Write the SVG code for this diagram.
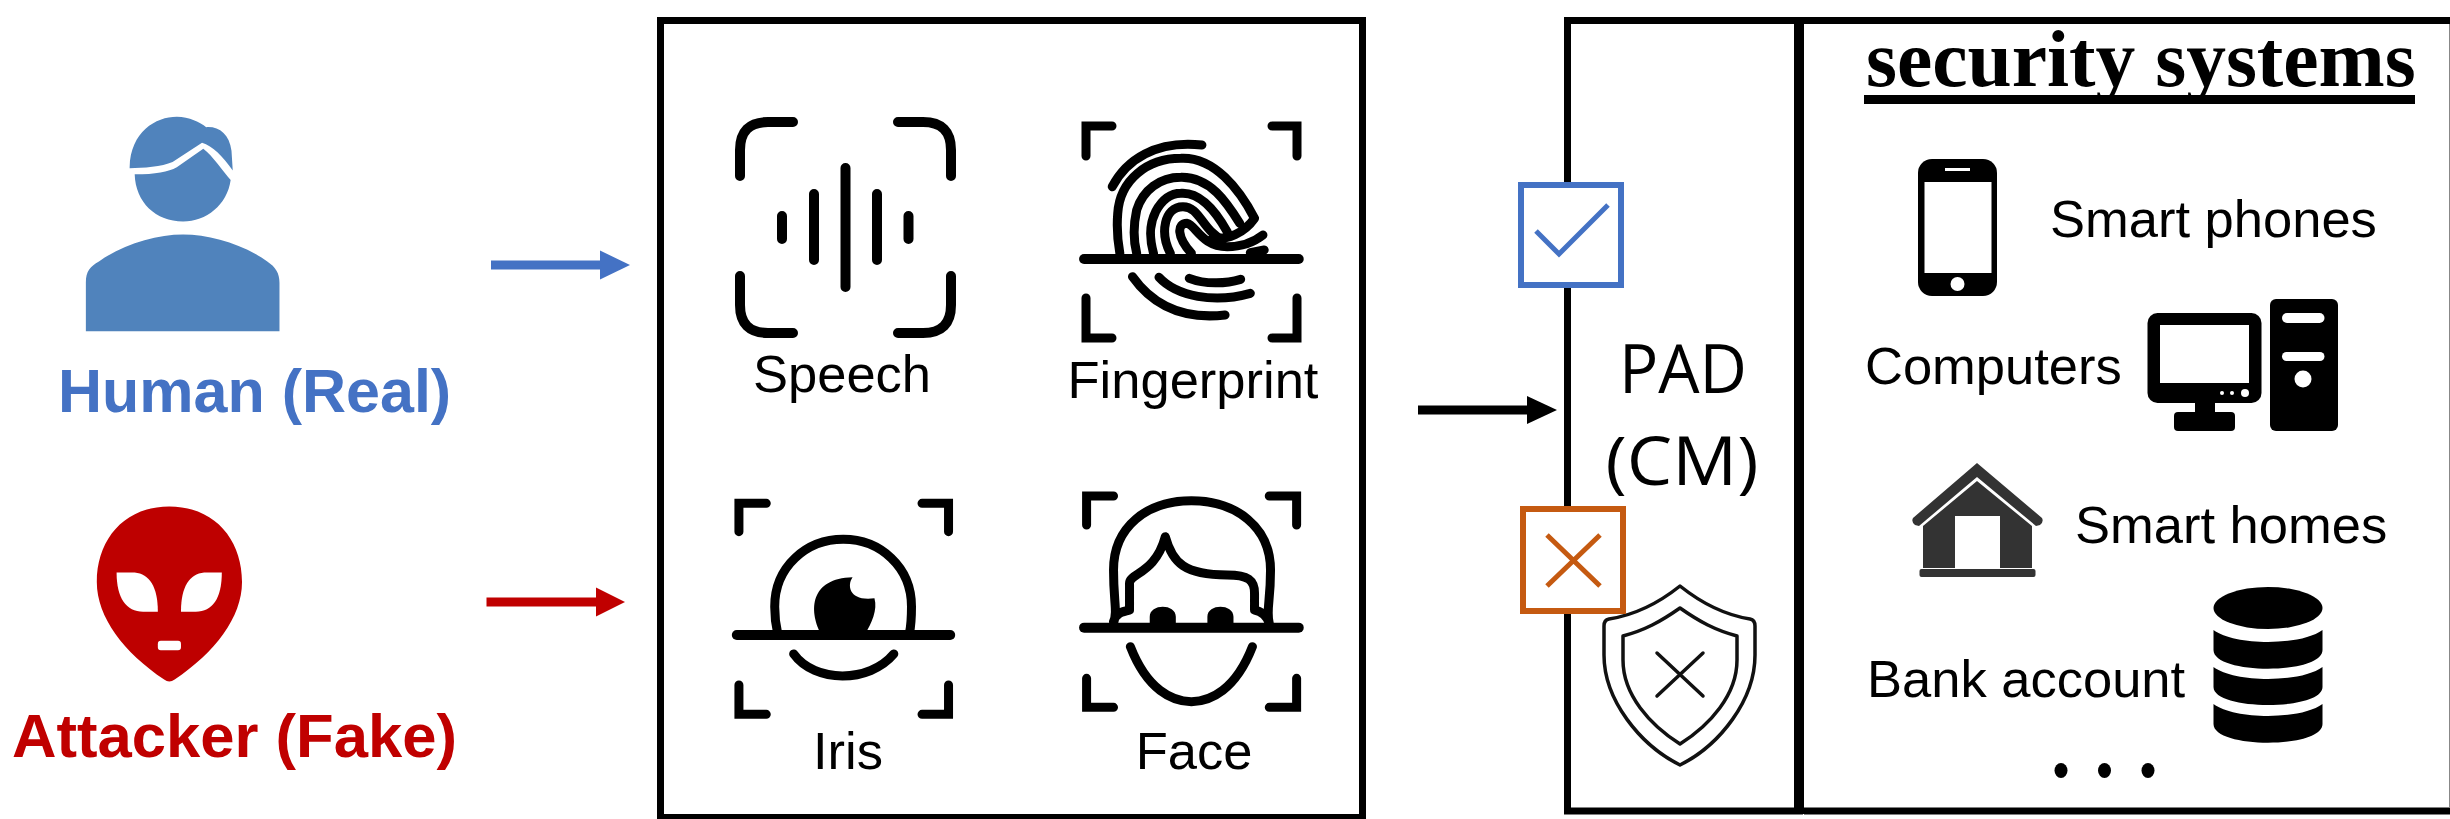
<svg xmlns="http://www.w3.org/2000/svg" width="2450" height="819" viewBox="0 0 2450 819">
<style>
text{font-family:"Liberation Sans",Arial,sans-serif;fill:#000}
.lbl{font-size:52.500px;text-anchor:middle}
.item{font-size:52.500px}
.bold{font-weight:bold;font-size:61px}
.cm{font-family:"Open Sans",sans-serif;font-size:68px;text-anchor:middle}
.frame{fill:none;stroke:#000;stroke-width:7}
.ink{fill:none;stroke:#000;stroke-linecap:round;stroke-linejoin:round;vector-effect:non-scaling-stroke}
.w9{stroke-width:9}
.w10{stroke-width:10}
.bracket{fill:none;stroke:#000;stroke-width:9;stroke-linecap:round;stroke-linejoin:miter;vector-effect:non-scaling-stroke}
.solid{fill:#000}
.hole{fill:#fff}
</style>
<rect width="2450" height="819" fill="#fff"/>
<g id="human">
<g transform="translate(0 80) scale(.4209 .4713)" fill="#5083bc">
<path d="M308 185C310 110 370 78 420 78C450 78 475 90 490 100C520 98 545 115 550 150L553 192C530 162 505 140 480 133L410 174C385 184 340 187 308 187Z"/>
<path d="M320 200C370 200 400 195 420 185L483 146C505 160 530 195 548 212C540 265 490 300 435 300C370 300 322 260 320 200Z"/>
<path d="M204 533V430C204 405 215 395 235 385C290 350 370 328 435 328C500 328 580 350 635 385C655 397 664 410 664 430V533Z"/>
</g>
<text class="bold" x="58" y="412" style="fill:#4472c4">Human (Real)</text>
</g>
<g id="attacker">
<g transform="translate(0 80) scale(.4209 .4713)">
<path fill="#be0000" d="M402 905C510 905 575 975 575 1065C575 1140 510 1215 415 1272Q402 1280 390 1272C295 1215 230 1140 230 1065C230 975 295 905 402 905Z"/>
<path class="hole" d="M277 1045H320C355 1048 375 1075 375 1128H340C300 1128 277 1100 277 1045Z"/>
<path class="hole" d="M527 1045H485C450 1048 430 1075 430 1128H465C505 1128 527 1100 527 1045Z"/>
<rect class="hole" x="375" y="1190" width="55" height="20" rx="7"/>
</g>
<text class="bold" x="12" y="757" style="fill:#c00000;font-size:61.600px">Attacker (Fake)</text>
</g>
<g id="modalities">
<rect class="frame" x="660.500" y="20.500" width="702" height="797"/>
</g>
<g id="speech">
<path class="ink w10" d="M740 176V150Q740 122 768 122H793M951 176V150Q951 122 923 122H898M740 276V305Q740 333 768 333H793M951 276V305Q951 333 923 333H898"/>
<path class="ink w10" d="M782 216V239M814 194V260M845.500 168V287M877 194V260M908.500 216V239"/>
<text class="lbl" x="842" y="392">Speech</text>
</g>
<g id="fingerprint">
<path class="bracket" d="M1112 126H1086V156M1272 126H1297V156M1086 298V338H1112M1297 298V338H1272"/>
<g transform="translate(680 90) scale(.4209 .3333)">
<path class="ink w10" d="M960 507H1470"/>
<path class="ink w9" d="M1027 290C1060 210 1130 150 1240 165M1045 490C1038 440 1038 400 1040 370C1045 270 1110 205 1190 205C1270 200 1330 300 1365 385C1340 430 1300 450 1265 445M1085 490C1075 440 1078 400 1085 360C1100 300 1140 262 1190 262C1260 260 1300 340 1330 400M1125 490C1112 430 1118 395 1130 365C1145 330 1165 310 1190 310C1240 305 1280 380 1300 425M1165 490C1140 430 1150 350 1195 350C1235 350 1240 420 1290 450M1215 490C1180 440 1180 400 1205 400C1225 405 1240 470 1300 470C1340 470 1365 455 1385 435M1355 488L1388 480M1075 560C1120 640 1190 690 1295 675M1138 562C1180 620 1270 640 1355 610M1210 565C1250 585 1300 580 1332 568"/>
</g>
<text class="lbl" x="1193" y="398">Fingerprint</text>
</g>
<g id="iris">
<g transform="translate(680 470) scale(.4209 .3333)">
<path class="bracket" d="M205 100H140V185M575 100H638V185M140 645V733H205M638 645V733H575"/>
<path class="ink w10" d="M135 495H642"/>
<path class="ink w9" d="M232 490C225 450 225 430 225 410C225 290 300 208 388 208C475 208 550 290 550 410C550 430 550 460 545 490M270 552C320 640 450 640 508 552"/>
<path class="solid" d="M335 492C305 420 310 325 410 322C395 350 405 395 462 385C470 420 455 460 440 492Z"/>
</g>
<text class="lbl" x="848" y="769">Iris</text>
</g>
<g id="face">
<g transform="translate(680 470) scale(.4209 .3333)">
<path class="bracket" d="M1030 78H966V165M1400 78H1465V165M966 625V712H1030M1465 625V712H1400"/>
<path class="ink w10" d="M960 473H1470"/>
<path class="ink w9" d="M1030 460C1040 420 1030 400 1030 300C1030 170 1110 92 1215 92C1320 92 1403 170 1403 300C1403 400 1392 420 1400 460M1030 455C1035 430 1050 425 1068 420V340C1068 310 1130 310 1153 200C1170 280 1200 315 1300 315C1350 315 1365 330 1365 370V420C1385 425 1395 440 1400 460M1070 530C1110 660 1170 695 1215 695C1260 695 1320 660 1360 530"/>
<path class="solid" d="M1116 465V440C1116 400 1178 400 1178 440V465ZM1253 465V440C1253 400 1315 400 1315 440V465Z"/>
</g>
<text class="lbl" x="1194" y="769">Face</text>
</g>
<g id="pad">
<rect class="frame" x="1567.500" y="20.500" width="232" height="790.500"/>
<text class="cm" x="1683" y="393" textLength="128" lengthAdjust="spacingAndGlyphs">PAD</text>
<text class="cm" x="1682" y="485" textLength="153" lengthAdjust="spacingAndGlyphs">(CM)</text>
</g>
<g id="shield" fill="none" stroke="#111" stroke-width="3.500" stroke-linejoin="round">
<path d="M1680 586C1700 602 1725 615 1750 619Q1755 620 1755 626V655C1755 700 1720 745 1680 765C1640 745 1604 700 1604 655V626Q1604 620 1609 619C1635 615 1660 602 1680 586Z"/>
<path d="M1680 608C1700 622 1715 630 1737 636V660C1737 695 1710 725 1680 744C1650 725 1623 695 1623 660V636C1645 630 1660 622 1680 608Z"/>
<path d="M1657 653L1703 696M1703 653L1657 696" stroke-linecap="round"/>
</g>
<g id="accept">
<rect x="1521" y="185" width="100" height="100" fill="#fff" stroke="#4472c4" stroke-width="6"/>
<path d="M1536 231L1559 254L1608 205" fill="none" stroke="#4472c4" stroke-width="5"/>
</g>
<g id="reject">
<rect x="1523" y="509" width="100" height="102" fill="#fff" stroke="#c55a11" stroke-width="6"/>
<path d="M1547 535L1600 586M1600 535L1547 586" fill="none" stroke="#c55a11" stroke-width="5"/>
</g>
<g id="security-systems">
<path d="M1804 20.500H2450M1804 811H2450" stroke="#000" stroke-width="7" fill="none"/>
<path d="M1799 17V814" stroke="#000" stroke-width="10" fill="none"/>
<path d="M2449.500 24V808" stroke="#888" stroke-width="1" fill="none"/>
<text x="1866" y="86" style="font-family:'Liberation Serif','Times New Roman',serif;font-weight:bold;font-size:79.500px">security systems</text>
<rect x="1864" y="95" width="551" height="9"/>
</g>
<g id="phone">
<rect x="1918" y="159" width="79" height="137" rx="14"/>
<rect class="hole" x="1924.500" y="182" width="67" height="91"/>
<rect class="hole" x="1945" y="168" width="25" height="3"/>
<circle class="hole" cx="1957.500" cy="284" r="7"/>
<text class="item" x="2050" y="237">Smart phones</text>
</g>
<g id="computer">
<text class="item" x="1865" y="384">Computers</text>
<rect x="2147.500" y="313" width="114" height="90" rx="10"/>
<rect class="hole" x="2160" y="325" width="89" height="58"/>
<circle class="hole" cx="2222" cy="393" r="2"/>
<circle class="hole" cx="2232" cy="393" r="2"/>
<circle class="hole" cx="2245" cy="393" r="4"/>
<rect x="2195" y="402" width="20" height="12"/>
<rect x="2174" y="412" width="61" height="19" rx="4"/>
<rect x="2270" y="299" width="68" height="132" rx="6"/>
<rect class="hole" x="2282" y="313" width="42.500" height="10" rx="5"/>
<rect class="hole" x="2282" y="352" width="42.500" height="9" rx="4.500"/>
<circle class="hole" cx="2303" cy="379" r="8.500"/>
</g>
<g id="home" fill="#333">
<path d="M1923 526L1977 481L2032 526V568H2000V516H1955V568H1923Z"/>
<path d="M1977 463L2042 518Q2044 522 2040 525L2036 526L1977 477L1919 526L1915 525Q1911 522 1913 518Z"/>
<rect x="1919.500" y="569" width="116" height="8" rx="2"/>
<text class="item" x="2075" y="543">Smart homes</text>
</g>
<g id="bank">
<text class="item" x="1867" y="697">Bank account</text>
<ellipse cx="2268" cy="608" rx="54.500" ry="21"/>
<path d="M2213.500 630C2235 646 2301 646 2322.500 630V650C2322.500 675 2213.500 675 2213.500 650Z"/>
<path d="M2213.500 667C2235 683 2301 683 2322.500 667V687C2322.500 711 2213.500 711 2213.500 687Z"/>
<path d="M2213.500 704C2235 720 2301 720 2322.500 704V724C2322.500 749 2213.500 749 2213.500 724Z"/>
</g>
<g id="ellipsis">
<ellipse cx="2061" cy="770.500" rx="6.500" ry="7.500"/>
<ellipse cx="2104.500" cy="770.500" rx="6.500" ry="7.500"/>
<ellipse cx="2148" cy="770.500" rx="6.500" ry="7.500"/>
</g>
<g id="connectors">
<path d="M491 265H601" stroke="#4472c4" stroke-width="9" fill="none"/>
<path d="M600 250.500L630 265L600 279.500Z" fill="#4472c4"/>
<path d="M486.500 602H597" stroke="#c00000" stroke-width="9" fill="none"/>
<path d="M596 587.500L625 602L596 616.500Z" fill="#c00000"/>
<path d="M1418 410H1528" stroke="#000" stroke-width="9" fill="none"/>
<path d="M1527 396L1557 410L1527 424Z" fill="#000"/>
</g>
</svg>
